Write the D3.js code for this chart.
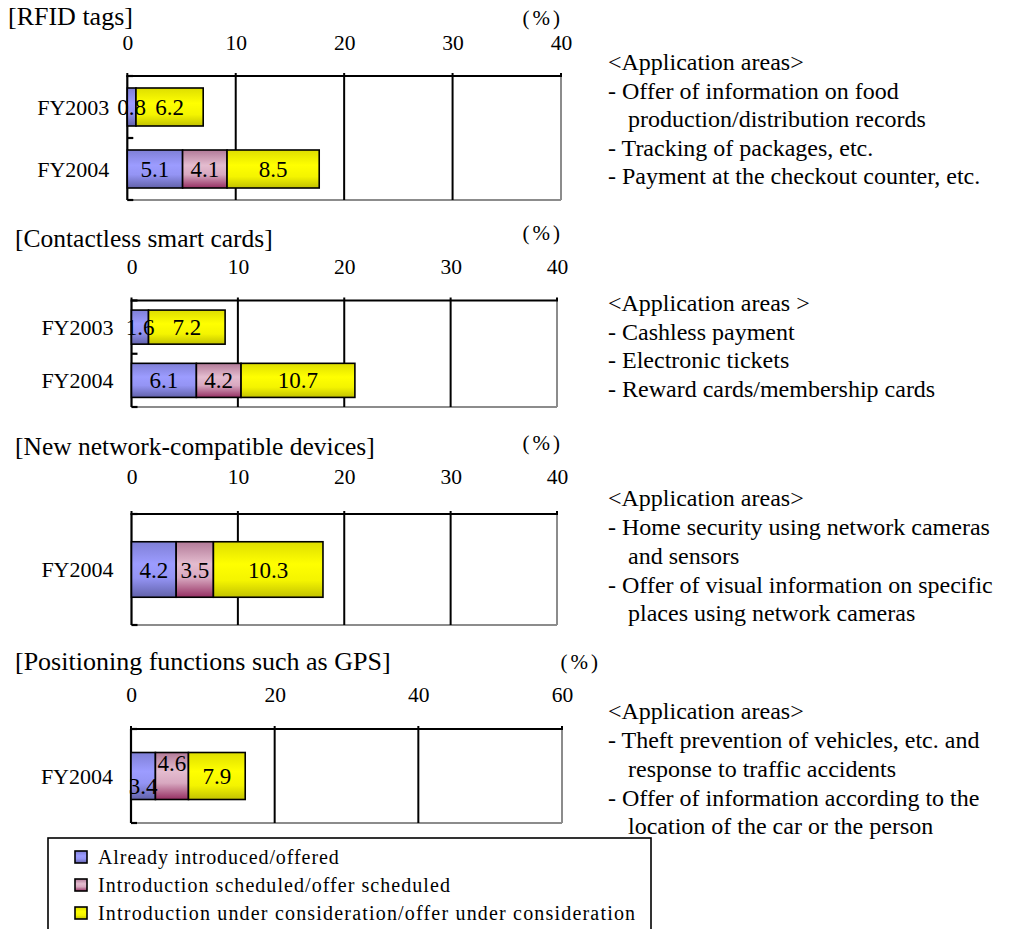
<!DOCTYPE html>
<html>
<head>
<meta charset="utf-8">
<script src="https://cdn.jsdelivr.net/npm/d3@7"></script>
<style>
  body { margin: 0; background: #fff; }
  svg { display: block; font-family: "Liberation Serif", "Times New Roman", serif; }
</style>
</head>
<body>
<svg id="chart" width="1017" height="929"></svg>
<script>
// ---- data ----
const seriesNames = [
  "Already introduced/offered",
  "Introduction scheduled/offer scheduled",
  "Introduction under consideration/offer under consideration"
];

const rfidYears = ["FY2003", "FY2004"];
const rfidIntroduced = [0.8, 5.1];
const rfidScheduled = [0, 4.1];
const rfidConsidering = [6.2, 8.5];

const cardYears = ["FY2003", "FY2004"];
const cardIntroduced = [1.6, 6.1];
const cardScheduled = [0, 4.2];
const cardConsidering = [7.2, 10.7];

const netYears = ["FY2004"];
const netIntroduced = [4.2];
const netScheduled = [3.5];
const netConsidering = [10.3];

const gpsYears = ["FY2004"];
const gpsIntroduced = [3.4];
const gpsScheduled = [4.6];
const gpsConsidering = [7.9];

const ticksTo40 = [0, 10, 20, 30, 40];
const ticksTo60 = [0, 20, 40, 60];

const panelTitles = [
  "[RFID tags]",
  "[Contactless smart cards]",
  "[New network-compatible devices]",
  "[Positioning functions such as GPS]"
];

const rfidNotes = [
  "<Application areas>",
  "- Offer of information on food",
  "production/distribution records",
  "- Tracking of packages, etc.",
  "- Payment at the checkout counter, etc."
];
const cardNotes = [
  "<Application areas >",
  "- Cashless payment",
  "- Electronic tickets",
  "- Reward cards/membership cards"
];
const netNotes = [
  "<Application areas>",
  "- Home security using network cameras",
  "and sensors",
  "- Offer of visual information on specific",
  "places using network cameras"
];
const gpsNotes = [
  "<Application areas>",
  "- Theft prevention of vehicles, etc. and",
  "response to traffic accidents",
  "- Offer of information according to the",
  "location of the car or the person"
];

// ---- layout ----
const panels = [
  { title: panelTitles[0], years: rfidYears, values: [rfidIntroduced, rfidScheduled, rfidConsidering],
    ticks: ticksTo40, notes: rfidNotes, titleSize: 26,
    titleX: 8, titleY: 16, pctX: 563, pctY: 18, tickY: 42,
    x0: 127.3, x1: 561, y0: 76, y1: 200, pad: 0.387, noteY: 62, noteStep: 28.5 },
  { title: panelTitles[1], years: cardYears, values: [cardIntroduced, cardScheduled, cardConsidering],
    ticks: ticksTo40, notes: cardNotes, titleSize: 25.5,
    titleX: 15, titleY: 238, pctX: 563, pctY: 233, tickY: 266,
    x0: 131.5, x1: 557, y0: 300.5, y1: 407, pad: 0.36, noteY: 303, noteStep: 28.4 },
  { title: panelTitles[2], years: netYears, values: [netIntroduced, netScheduled, netConsidering],
    ticks: ticksTo40, notes: netNotes, titleSize: 25.5,
    titleX: 15, titleY: 446, pctX: 563, pctY: 443, tickY: 476,
    x0: 131.5, x1: 557, y0: 514, y1: 625, pad: 0.5, noteY: 498, noteStep: 28.7 },
  { title: panelTitles[3], years: gpsYears, values: [gpsIntroduced, gpsScheduled, gpsConsidering],
    ticks: ticksTo60, notes: gpsNotes, titleSize: 26,
    titleX: 15, titleY: 661, pctX: 601, pctY: 662, tickY: 694,
    x0: 131, x1: 562, y0: 729, y1: 823, pad: 0.5, noteY: 711, noteStep: 28.7 }
];

// label nudges where the data labels sit off-centre (GPS bar)
const labelNudge = { "3-0-0": 10, "3-0-1": -13 };

const svg = d3.select("#chart");

// vertical shaded fills for the three series
const fills = [
  { id: "gBlue",   stops: [["0%", "#7f7fd6"], ["40%", "#9c9cff"], ["65%", "#9494f4"], ["100%", "#6262aa"]] },
  { id: "gPink",   stops: [["0%", "#b27a98"], ["40%", "#e4bccf"], ["65%", "#d8a8c0"], ["100%", "#952f62"]] },
  { id: "gYellow", stops: [["0%", "#dede00"], ["40%", "#ffff00"], ["70%", "#f4f400"], ["100%", "#c2c200"]] }
];
const defs = svg.append("defs");
fills.forEach(f => {
  const g = defs.append("linearGradient").attr("id", f.id)
    .attr("x1", 0).attr("y1", 0).attr("x2", 0).attr("y2", 1);
  f.stops.forEach(s => g.append("stop").attr("offset", s[0]).attr("stop-color", s[1]));
});
const fillUrl = fills.map(f => `url(#${f.id})`);

panels.forEach((p, pi) => {
  const maxTick = p.ticks[p.ticks.length - 1];
  const x = d3.scaleLinear().domain([0, maxTick]).range([p.x0, p.x1]);
  const y = d3.scaleBand().domain(p.years).range([p.y0, p.y1])
    .paddingInner(p.pad).paddingOuter(p.pad / 2);

  const g = svg.append("g");

  // title and unit
  g.append("text").attr("x", p.titleX).attr("y", p.titleY).attr("dy", "0.35em")
    .attr("font-size", p.titleSize).attr("fill", "#000").text(p.title);
  g.append("text").attr("x", p.pctX).attr("y", p.pctY).attr("dy", "0.35em")
    .attr("text-anchor", "end").attr("font-size", 21).attr("letter-spacing", 3)
    .attr("fill", "#000").text("(%)");

  // top tick labels
  const axis = d3.axisTop(x).tickValues(p.ticks).tickSize(0).tickFormat(d3.format("d"));
  const ax = g.append("g").attr("transform", `translate(0,${p.tickY})`).call(axis);
  ax.select(".domain").remove();
  ax.selectAll("text").attr("y", 0).attr("dy", "0.35em")
    .attr("font-size", 21.5).attr("fill", "#000")
    .attr("font-family", "Liberation Serif, Times New Roman, serif");

  // frame: right and bottom edges grey
  g.append("line").attr("x1", x(maxTick)).attr("x2", x(maxTick)).attr("y1", p.y0).attr("y2", p.y1)
    .attr("stroke", "#8c8c8c").attr("stroke-width", 2);
  g.append("line").attr("x1", p.x0).attr("x2", x(maxTick)).attr("y1", p.y1).attr("y2", p.y1)
    .attr("stroke", "#8c8c8c").attr("stroke-width", 2);

  // gridlines
  g.selectAll(".grid").data(p.ticks.slice(1, -1)).join("line")
    .attr("x1", d => x(d)).attr("x2", d => x(d)).attr("y1", p.y0).attr("y2", p.y1)
    .attr("stroke", "#000").attr("stroke-width", 2);

  // top and left edges
  g.append("line").attr("x1", p.x0 - 1).attr("x2", x(maxTick) + 1).attr("y1", p.y0).attr("y2", p.y0)
    .attr("stroke", "#000").attr("stroke-width", 2.2);
  g.append("line").attr("x1", p.x0).attr("x2", p.x0).attr("y1", p.y0).attr("y2", p.y1)
    .attr("stroke", "#000").attr("stroke-width", 2.2);

  // small top tick marks
  g.selectAll(".tt").data(p.ticks).join("line")
    .attr("x1", d => x(d)).attr("x2", d => x(d)).attr("y1", p.y0 - 3).attr("y2", p.y0)
    .attr("stroke", "#000").attr("stroke-width", 2);

  // category boundary ticks on the left edge
  const step = y.step();
  const bounds = d3.range(p.years.length + 1).map(i => p.y0 + i * step);
  g.selectAll(".lt").data(bounds).join("line")
    .attr("x1", p.x0).attr("x2", p.x0 + 6).attr("y1", d => d).attr("y2", d => d)
    .attr("stroke", "#000").attr("stroke-width", 2.2);

  // category labels
  g.selectAll(".cat").data(p.years).join("text")
    .attr("x", p.x0 - 18).attr("y", d => y(d) + y.bandwidth() / 2).attr("dy", "0.35em")
    .attr("text-anchor", "end").attr("font-size", 22).attr("fill", "#000")
    .text(d => d);

  // stacked segments
  p.years.forEach((yr, ci) => {
    let acc = 0;
    p.values.forEach((vals, si) => {
      const v = vals[ci];
      const start = acc;
      acc += v;
      if (!v) return;
      g.append("rect")
        .attr("x", x(start)).attr("y", y(yr))
        .attr("width", x(start + v) - x(start)).attr("height", y.bandwidth())
        .attr("fill", fillUrl[si]).attr("stroke", "#000").attr("stroke-width", 1.6);
    });
    acc = 0;
    p.values.forEach((vals, si) => {
      const v = vals[ci];
      const start = acc;
      acc += v;
      if (!v) return;
      const nudge = labelNudge[`${pi}-${ci}-${si}`] || 0;
      g.append("text")
        .attr("x", x(start + v / 2)).attr("y", y(yr) + y.bandwidth() / 2 + nudge)
        .attr("dy", "0.35em").attr("text-anchor", "middle")
        .attr("font-size", 23).attr("fill", "#000")
        .text(d3.format(".1f")(v));
    });
  });

  // application notes
  g.selectAll(".note").data(p.notes).join("text")
    .attr("x", d => (d.startsWith("<") || d.startsWith("-")) ? 608 : 628)
    .attr("y", (d, i) => p.noteY + i * p.noteStep).attr("dy", "0.35em")
    .attr("font-size", 24).attr("fill", "#000").attr("xml:space", "preserve")
    .text(d => d);
});

// legend
const legend = svg.append("g");
legend.append("rect").attr("x", 48).attr("y", 838).attr("width", 603).attr("height", 120)
  .attr("fill", "#fff").attr("stroke", "#000").attr("stroke-width", 1.6);
const legendRowY = d3.scalePoint().domain(seriesNames).range([857, 913]);
const charAdvance = 9.26;
seriesNames.forEach((name, i) => {
  legend.append("rect").attr("x", 75).attr("y", legendRowY(name) - 6).attr("width", 12).attr("height", 12)
    .attr("fill", fillUrl[i]).attr("stroke", "#000").attr("stroke-width", 1.6);
  legend.append("text").attr("x", 98).attr("y", legendRowY(name)).attr("dy", "0.35em")
    .attr("font-size", 20).attr("fill", "#000")
    .attr("textLength", name.length * charAdvance).attr("lengthAdjust", "spacing")
    .text(name);
});
</script>
</body>
</html>
